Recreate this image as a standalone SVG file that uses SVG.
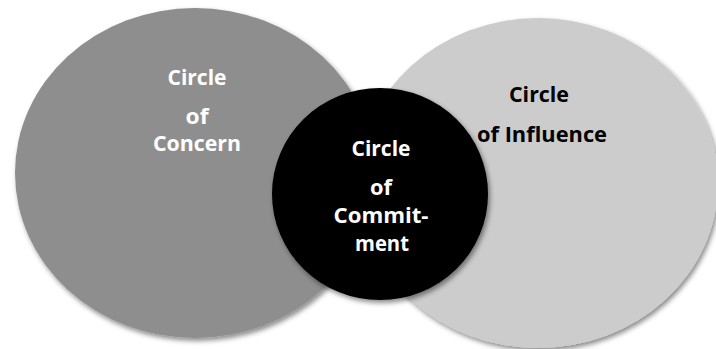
<svg xmlns="http://www.w3.org/2000/svg" width="716" height="349" viewBox="0 0 716 349">
  <defs>
    <filter id="shadow" x="-10%" y="-10%" width="125%" height="125%">
      <feDropShadow dx="2" dy="3" stdDeviation="2.5" flood-color="#000" flood-opacity="0.45"/>
    </filter>
  </defs>
  <style>
    .label { font-family: "Open Sans", "Noto Sans", "Liberation Sans", sans-serif; font-weight: bold; font-size: 21px; text-anchor: middle; }
    .light { fill: #ffffff; }
    .dark { fill: #000000; }
    .blob { filter: url(#shadow); }
  </style>
  <rect width="716" height="349" fill="#ffffff"/>

  <!-- outer ring: what we care about -->
  <g id="concern">
    <ellipse class="blob" cx="195" cy="173" rx="180" ry="165" fill="#8e8e8e"/>
    <text class="label light" x="197" y="85" textLength="59" lengthAdjust="spacingAndGlyphs">Circle</text>
    <text class="label light" x="197" y="124" textLength="23" lengthAdjust="spacingAndGlyphs">of</text>
    <text class="label light" x="197" y="151" textLength="88" lengthAdjust="spacingAndGlyphs">Concern</text>
  </g>

  <!-- ring we can act on -->
  <g id="influence">
    <ellipse class="blob" cx="538" cy="183" rx="180" ry="165" fill="#cccccc"/>
    <text class="label dark" x="539" y="102" textLength="60" lengthAdjust="spacingAndGlyphs">Circle</text>
    <text class="label dark" x="542" y="142" textLength="130" lengthAdjust="spacingAndGlyphs">of Influence</text>
  </g>

  <!-- overlap core -->
  <g id="commitment">
    <ellipse class="blob" cx="380" cy="194" rx="108" ry="106" fill="#000000"/>
    <text class="label light" x="381" y="156" textLength="59" lengthAdjust="spacingAndGlyphs">Circle</text>
    <text class="label light" x="381" y="195" textLength="22" lengthAdjust="spacingAndGlyphs">of</text>
    <text class="label light" x="381" y="223" textLength="95" lengthAdjust="spacingAndGlyphs">Commit-</text>
    <text class="label light" x="382" y="251" textLength="54" lengthAdjust="spacingAndGlyphs">ment</text>
  </g>

  <g id="connectors"></g>
</svg>
